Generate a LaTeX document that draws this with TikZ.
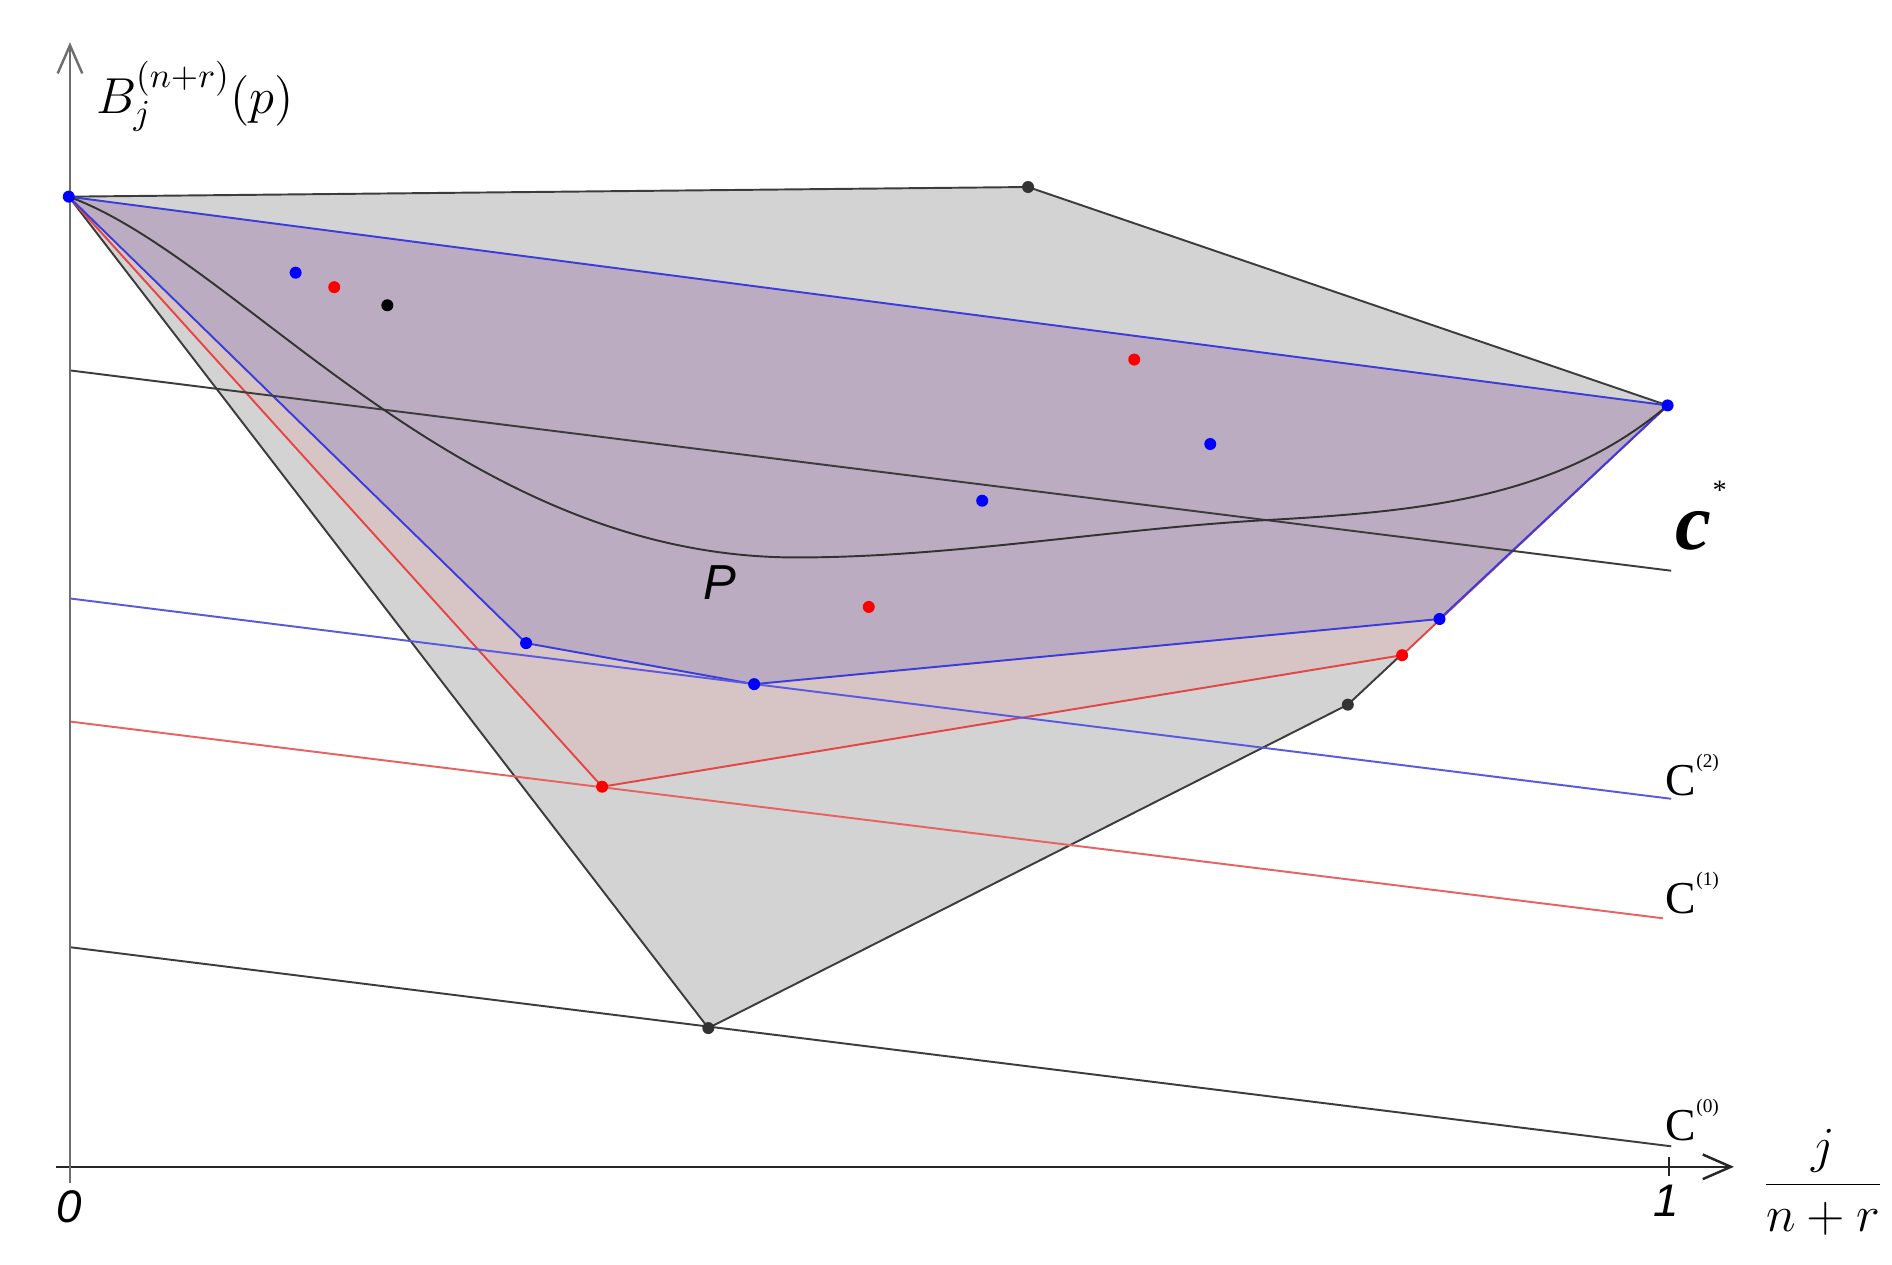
\documentclass[tikz,border=0pt]{standalone}
\usepackage{fontspec}
\newfontfamily\geo{Liberation Sans}
\newfontfamily\tms{Liberation Serif}
\usetikzlibrary{arrows.meta}
\definecolor{grayfill}{RGB}{211,211,211}
\definecolor{pinkfill}{RGB}{215,197,197}
\definecolor{purplefill}{RGB}{187,172,193}
\definecolor{bluel}{RGB}{60,60,220}
\definecolor{redl}{RGB}{228,70,70}
\definecolor{edgegray}{RGB}{60,60,60}
\definecolor{axisgray}{RGB}{110,110,110}
\tikzset{
  dotpt/.style={circle,inner sep=0pt,minimum size=0.12cm,fill=#1,draw=none},
  axisline/.style={line width=0.7pt,-{Straight Barb[length=8pt,width=7pt]}},
  thinline/.style={line width=0.55pt},
  clabel/.style={anchor=base west,inner sep=0pt,font=\tms\fontsize{13}{13}\selectfont},
}
\begin{document}
\begin{tikzpicture}[x=0.012066cm,y=-0.012066cm]
\useasboundingbox[fill=white] (0,0) rectangle (1568,1048);

% key vertices
\coordinate (A) at (57,163);
\coordinate (T) at (852,155);
\coordinate (R) at (1382,336);
\coordinate (G2) at (1117,584);
\coordinate (G3) at (587,852);
\coordinate (r1) at (499,652);
\coordinate (r2) at (1162,543);
\coordinate (b1) at (436,533);
\coordinate (b2) at (625,567);
\coordinate (b3) at (1193,513);

% gray polygon
\fill[grayfill] (A) -- (T) -- (R) -- (G2) -- (G3) -- cycle;
\draw[thinline,edgegray] (A) -- (T) -- (R) -- (G2) -- (G3) -- cycle;
% red polygon
\fill[pinkfill] (A) -- (r1) -- (r2) -- (R) -- cycle;
\draw[thinline,redl] (A) -- (r1) -- (r2) -- (R);
% blue polygon
\fill[purplefill] (A) -- (b1) -- (b2) -- (b3) -- (R) -- cycle;
\draw[thinline,bluel] (A) -- (b1) -- (b2) -- (b3) -- (R) -- cycle;

% level lines
\coordinate (cs1) at (58,307);  \coordinate (cs2) at (1385,473);
\coordinate (c21) at (58,496);  \coordinate (c22) at (1385,662);
\coordinate (c11) at (58,598);  \coordinate (c12) at (1378,761);
\coordinate (c01) at (58,785);  \coordinate (c02) at (1385,950);
\draw[thinline,edgegray] (cs1) -- (cs2);
\draw[thinline,bluel!85] (c21) -- (c22);
\draw[thinline,redl!85] (c11) -- (c12);
\draw[thinline,edgegray] (c01) -- (c02);

% curve P
\coordinate (M) at (660,462);
\coordinate (N) at (1050,431);
\coordinate (k1) at (200,215);  \coordinate (k2) at (380,462);
\coordinate (k3) at (790,462);  \coordinate (k4) at (920,438.2);
\coordinate (k5) at (1180,423.8); \coordinate (k6) at (1292,412.5);
\draw[thinline,black!80] (A) .. controls (k1) and (k2) .. (M)
  .. controls (k3) and (k4) .. (N)
  .. controls (k5) and (k6) .. (R);

% axes
\coordinate (xs) at (46,967); \coordinate (xe) at (1437,967);
\coordinate (ys) at (58,980); \coordinate (ye) at (58,35);
\draw[axisline,black!85] (xs) -- (xe);
\draw[axisline,axisgray] (ys) -- (ye);
\coordinate (t1) at (1383,959); \coordinate (t2) at (1383,975);
\draw[line width=0.6pt,black!85] (t1) -- (t2);

% dots
\node[dotpt=blue] (pA) at (A) {};
\node[dotpt=blue] (pR) at (R) {};
\node[dotpt=black!80] (pT) at (T) {};
\node[dotpt=black!80] (pG2) at (G2) {};
\node[dotpt=black!80] (pG3) at (G3) {};
\node[dotpt=red] (pr1) at (r1) {};
\node[dotpt=red] (pr2) at (r2) {};
\node[dotpt=blue] (pb1) at (b1) {};
\node[dotpt=blue] (pb2) at (b2) {};
\node[dotpt=blue] (pb3) at (b3) {};
\node[dotpt=blue] (q1) at (245,226) {};
\node[dotpt=red] (q2) at (277,238) {};
\node[dotpt=black] (q3) at (321,253) {};
\node[dotpt=red] (q4) at (940,298) {};
\node[dotpt=blue] (q5) at (1003,368) {};
\node[dotpt=blue] (q6) at (814,415) {};
\node[dotpt=red] (q7) at (720,503) {};

% labels
\node[anchor=base west,inner sep=0pt,font=\fontsize{14}{14}\selectfont] (ylab) at (79,94) {$B_j^{(n+r)}(p)$};
\node[font=\fontsize{14}{14}\selectfont] (xlab) at (1511,980) {$\displaystyle\frac{j}{n+r}$};
\node[font=\geo\itshape\fontsize{13}{13}\selectfont] (l0) at (57,1000) {0};
\node[font=\geo\itshape\fontsize{13}{13}\selectfont] (l1) at (1381,995) {1};
\node[font=\geo\itshape\fontsize{14}{14}\selectfont] (lP) at (597,483) {P};
\node[anchor=base west,inner sep=0pt,font=\tms\bfseries\itshape\fontsize{23}{23}\selectfont] (lcs) at (1388,455) {c\raisebox{14pt}{\mdseries\fontsize{8}{8}\selectfont *}};
\node[clabel] (l2) at (1380,659) {C\raisebox{8pt}{\fontsize{5.5}{5.5}\selectfont (2)}};
\node[clabel] (l1c) at (1380,757) {C\raisebox{8pt}{\fontsize{5.5}{5.5}\selectfont (1)}};
\node[clabel] (l0c) at (1380,945) {C\raisebox{8pt}{\fontsize{5.5}{5.5}\selectfont (0)}};
\end{tikzpicture}
\end{document}
